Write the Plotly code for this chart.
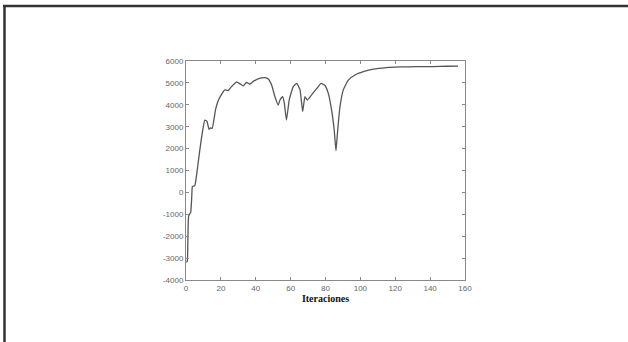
import plotly.graph_objects as go

# Data
iteraciones = [0.3, 0.8, 1.5, 2.7, 3.3, 3.7, 5.0, 6.2, 7.8, 9.5, 10.8, 12.0, 13.2, 14.0, 15.0, 17.0,
               18.5, 20.4, 22.3, 24.2, 26.1, 28.9, 30.8, 32.8, 34.7, 36.6, 38.8, 42.6, 45.3, 47.2,
               49.1, 51.0, 52.9, 53.9, 55.4, 56.4, 57.6, 59.2, 61.5, 63.5, 65.4, 66.9, 68.2, 69.5,
               72.0, 75.0, 77.5, 79.7, 81.6, 83.5, 85.0, 86.0, 87.0, 88.3, 90.2, 93.1, 96.9,
               101.7, 107.4, 115.0, 122.7, 132.0, 141.7, 150.0, 156.0]
valores = [-3200, -3100, -1080, -900, -200, 280, 300, 870, 1860, 2800, 3300, 3250, 2880, 2950, 2920, 3800,
           4200, 4480, 4680, 4650, 4830, 5040, 4970, 4860, 5020, 4950, 5080, 5220, 5240, 5180,
           4900, 4370, 3990, 4220, 4370, 4070, 3300, 4220, 4830, 4980, 4680, 3690, 4370, 4220,
           4450, 4750, 4980, 4880, 4520, 3760, 2850, 1900, 2850, 3910, 4680, 5130, 5360,
           5510, 5630, 5700, 5730, 5740, 5745, 5760, 5770]

x_ticks = [0, 20, 40, 60, 80, 100, 120, 140, 160]
y_ticks = [-4000, -3000, -2000, -1000, 0, 1000, 2000, 3000, 4000, 5000, 6000]

fig = go.Figure()
fig.add_trace(go.Scatter(x=iteraciones, y=valores, mode="lines",
                         line=dict(color="#555555", width=1.3, shape="spline", smoothing=0.4),
                         showlegend=False))

W, H = 628, 342
L, R, T, B = 186, 465, 61, 280
pw, ph = R - L, B - T

def px(x):
    return (x - L) / pw

def py(y):
    return (B - y) / ph

axis_common = dict(showgrid=False, zeroline=False, showline=True, linecolor="#888888", linewidth=1,
                   mirror="ticks", ticks="inside", ticklen=3, tickcolor="#888888",
                   tickfont=dict(family="Arial, Liberation Sans", size=8, color="#666666"))

fig.update_xaxes(range=[0, 160], tickvals=x_ticks, ticktext=[str(v) for v in x_ticks],
                 title=dict(text="<b>Iteraciones</b>", standoff=3,
                            font=dict(family="Liberation Serif, Times New Roman", size=10, color="#111111")),
                 **axis_common)
fig.update_yaxes(range=[-4000, 6000], tickvals=y_ticks, ticktext=[str(v) for v in y_ticks],
                 **axis_common)

fig.add_shape(type="line", xref="paper", yref="paper", x0=px(3), x1=px(630), y0=py(6), y1=py(6),
              line=dict(color="#333333", width=2.5))
fig.add_shape(type="line", xref="paper", yref="paper", x0=px(4.5), x1=px(4.5), y0=py(5), y1=py(345),
              line=dict(color="#333333", width=2.5))

fig.update_layout(width=W, height=H, margin=dict(l=L, r=W - R, t=T, b=H - B),
                  paper_bgcolor="white", plot_bgcolor="white")

fig.write_html("out.html", config={"displayModeBar": False},
               post_script="document.body.style.margin='0';document.body.style.overflow='hidden';")
